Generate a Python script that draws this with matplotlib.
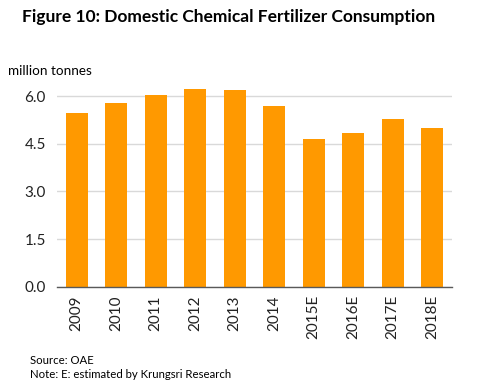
import numpy as np
import matplotlib.pyplot as plt

years = ["2009", "2010", "2011", "2012", "2013", "2014",
         "2015E", "2016E", "2017E", "2018E"]
consumption = [5.47, 5.78, 6.03, 6.22, 6.18, 5.69, 4.65, 4.84, 5.28, 4.99]
yticks = [0.0, 1.5, 3.0, 4.5, 6.0]

plt.rcParams['font.family'] = ['Lato', 'DejaVu Sans']

fig = plt.figure(figsize=(4.88, 3.91), dpi=100)
# axes placed in pixel terms: left 57, right 452, bottom(y=0) 286.7, top ~83
W, H = 488, 391
ax = fig.add_axes([57 / W, 1 - 286.7 / H, (452 - 57) / W, (286.7 - 83) / H])

x = np.arange(len(years))
ax.bar(x, consumption, width=0.56, color='#FF9900', zorder=3)

ax.set_xlim(-0.5, len(years) - 0.5)
ax.set_ylim(0, 6.0 * (286.7 - 83) / (286.7 - 96))
ax.set_yticks(yticks)
ax.set_yticklabels([f"{v:.1f}" for v in yticks], fontsize=11, color='#222222')
ax.set_xticks(x)
ax.set_xticklabels(years, rotation=90, fontsize=11, color='#222222')
ax.tick_params(length=0, pad=8)
ax.tick_params(axis='x', pad=6)

ax.grid(axis='y', color='#d9d9d9', linewidth=1, zorder=0)
for side in ['top', 'right', 'left']:
    ax.spines[side].set_visible(False)
ax.spines['bottom'].set_color('#595959')
ax.spines['bottom'].set_linewidth(1)
ax.spines['bottom'].set_zorder(4)

fig.text(22 / W, 1 - 17 / H, "Figure 10: Domestic Chemical Fertilizer Consumption",
         fontsize=12.5, fontweight='bold', va='center', ha='left')
fig.text(8 / W, 1 - 71 / H, "million tonnes", fontsize=9.7, va='center', ha='left')
fig.text(30 / W, 1 - 361 / H, "Source: OAE", fontsize=8.2, va='center', ha='left')
fig.text(30 / W, 1 - 374 / H, "Note: E: estimated by Krungsri Research", fontsize=8.2,
         va='center', ha='left')

fig.savefig("out.png", dpi=100)
